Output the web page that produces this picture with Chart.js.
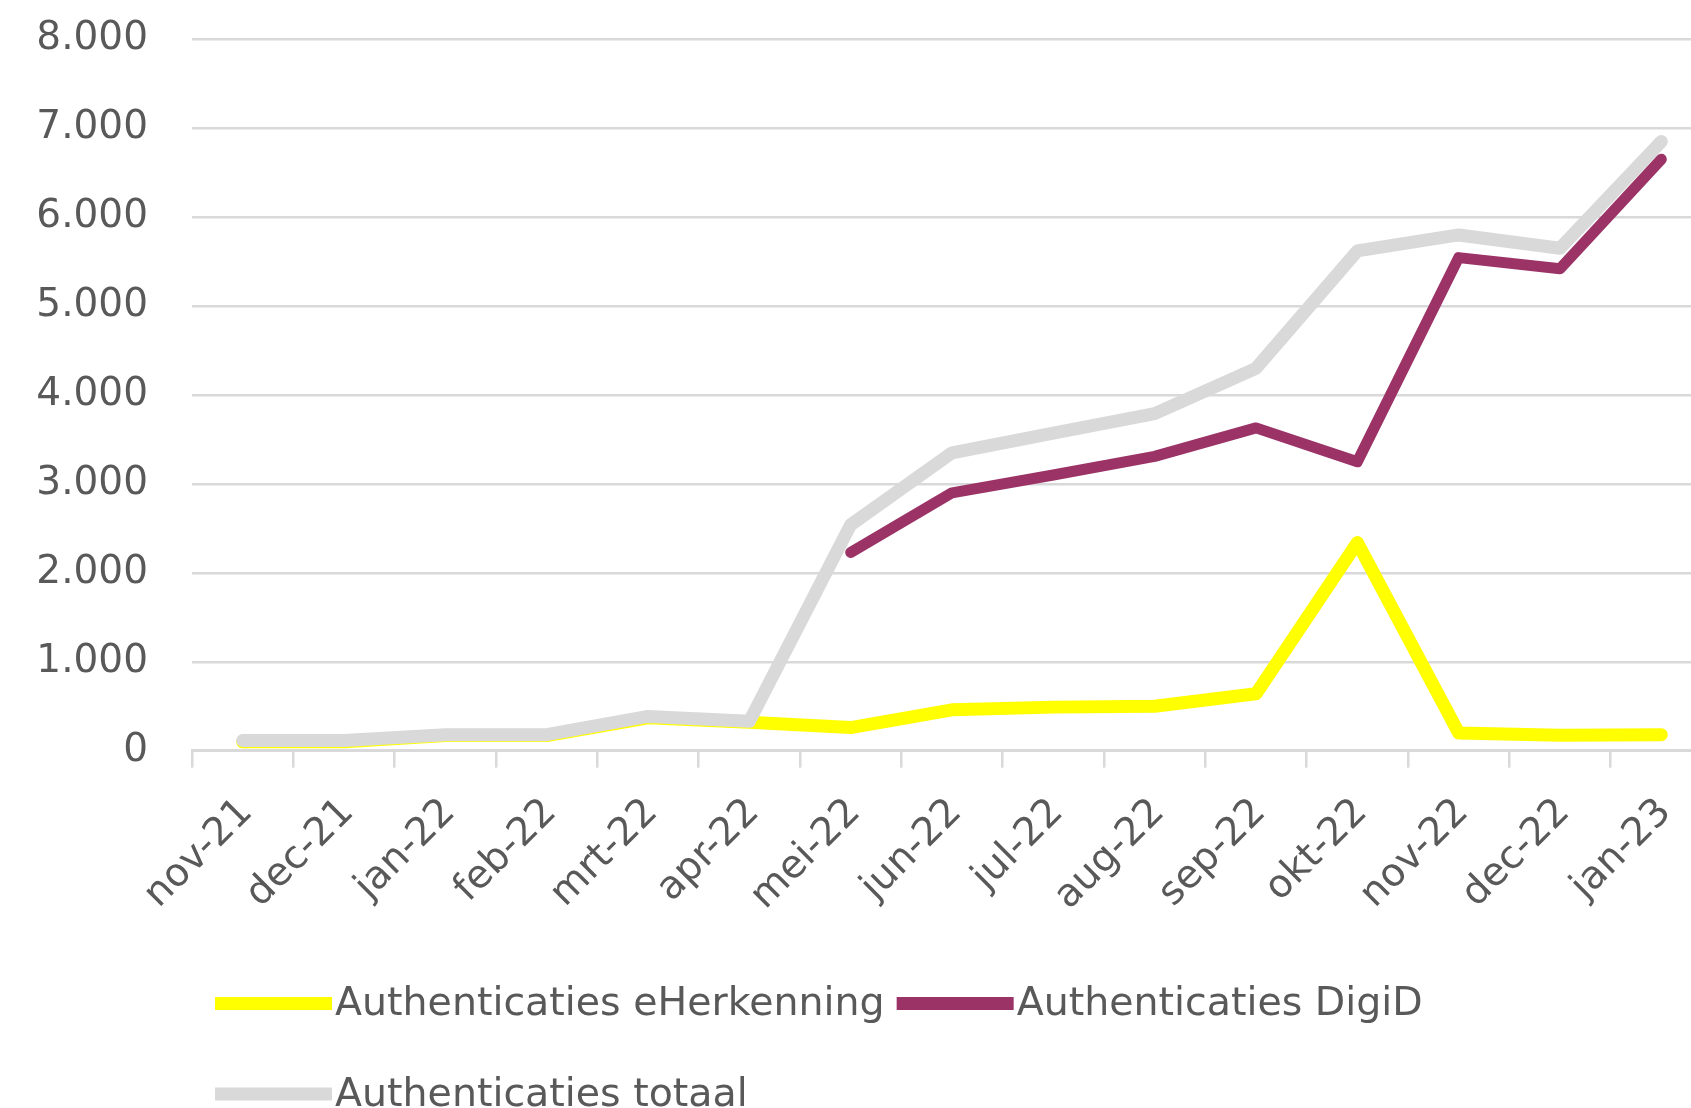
<!DOCTYPE html>
<html>
<head>
<meta charset="utf-8">
<script src="https://cdn.jsdelivr.net/npm/chart.js@4/dist/chart.umd.min.js"></script>
<style>
  html, body { margin: 0; padding: 0; background: #fff; overflow: hidden; }
  #wrap { width: 1720px; height: 1108px; position: relative; }
</style>
</head>
<body>
<div id="wrap"><canvas id="chart"></canvas></div>
<script>
// months on the x axis
const months = ['nov-21', 'dec-21', 'jan-22', 'feb-22', 'mrt-22', 'apr-22', 'mei-22', 'jun-22',
  'jul-22', 'aug-22', 'sep-22', 'okt-22', 'nov-22', 'dec-22', 'jan-23'];

// series
const eHerkenning = [100, 100, 170, 170, 370, 320, 260, 460, 490, 500, 640, 2340, 200, 175, 180];
const digiD = [null, null, null, null, null, null, 2230, 2900, 3100, 3310, 3630, 3250, 5545, 5420, 6650];
const totaal = [115, 115, 180, 180, 385, 330, 2540, 3350, 3570, 3790, 4300, 5620, 5800, 5650, 6850];

const yTicks = [0, 1000, 2000, 3000, 4000, 5000, 6000, 7000, 8000];

const textColor = '#595959';
const gridColor = '#d9d9d9';
const font = { family: 'DejaVu Sans', size: 39 };
const legendFontSize = 39.5;

// Dutch thousands separator
const fmt = v => v === 0 ? '0' : Math.floor(v / 1000) + '.' + String(v % 1000).padStart(3, '0');

// legend drawn on the canvas, left aligned, two rows like the original
const bottomLegend = {
  id: 'bottomLegend',
  afterDraw(chart) {
    const ctx = chart.ctx;
    const rows = [[0, 1], [2]];
    const rowY = [1003.5, 1094];
    ctx.save();
    ctx.font = legendFontSize + 'px "' + font.family + '"';
    ctx.textBaseline = 'alphabetic';
    rows.forEach((row, r) => {
      let x = 215;
      row.forEach(i => {
        const ds = chart.data.datasets[i];
        ctx.fillStyle = ds.borderColor;
        ctx.fillRect(x, rowY[r] - 6.5, 117, 13);
        x += 120;
        ctx.fillStyle = textColor;
        ctx.fillText(ds.label, x, rowY[r] + 11.5);
        x += ctx.measureText(ds.label).width + 12;
      });
    });
    ctx.restore();
  }
};

new Chart(document.getElementById('chart'), {
  type: 'line',
  data: {
    labels: months,
    datasets: [
      { label: 'Authenticaties eHerkenning', data: eHerkenning, borderColor: '#ffff00', backgroundColor: '#ffff00', borderWidth: 13, order: 2 },
      { label: 'Authenticaties DigiD', data: digiD, borderColor: '#9b3366', backgroundColor: '#9b3366', borderWidth: 11, order: 0 },
      { label: 'Authenticaties totaal', data: totaal, borderColor: '#d9d9d9', backgroundColor: '#d9d9d9', borderWidth: 13, order: 1 }
    ]
  },
  options: {
    responsive: true,
    maintainAspectRatio: false,
    animation: false,
    layout: { padding: { top: 39.3, left: 0, right: 8, bottom: 0 } },
    elements: {
      point: { radius: 0, hoverRadius: 0 },
      line: { tension: 0, borderCapStyle: 'round', borderJoinStyle: 'round' }
    },
    plugins: {
      legend: { display: false },
      tooltip: { enabled: false }
    },
    scales: {
      x: {
        offset: true,
        grid: { drawOnChartArea: false, drawTicks: true, tickLength: 17, color: gridColor, lineWidth: 2.5, offset: true },
        border: { display: true, color: gridColor, width: 3 },
        ticks: { minRotation: 45, maxRotation: 45, autoSkip: false, padding: 22, labelOffset: 4, color: textColor, font: font },
        afterFit(scale) { scale.height = 1108 - 750.7; }
      },
      y: {
        min: 0,
        max: 8000,
        afterBuildTicks(scale) { scale.ticks = yTicks.map(v => ({ value: v })); },
        grid: { color: gridColor, lineWidth: 2.5, drawTicks: false },
        border: { display: false },
        ticks: { padding: 44, color: textColor, font: font, callback: v => fmt(v) },
        afterFit(scale) {
          // fixed axis width; the tick padding should not push the plot down
          scale.width = 192;
          scale.paddingTop = 0;
          scale.paddingBottom = 0;
        }
      }
    }
  },
  plugins: [bottomLegend]
});
</script>
</body>
</html>
